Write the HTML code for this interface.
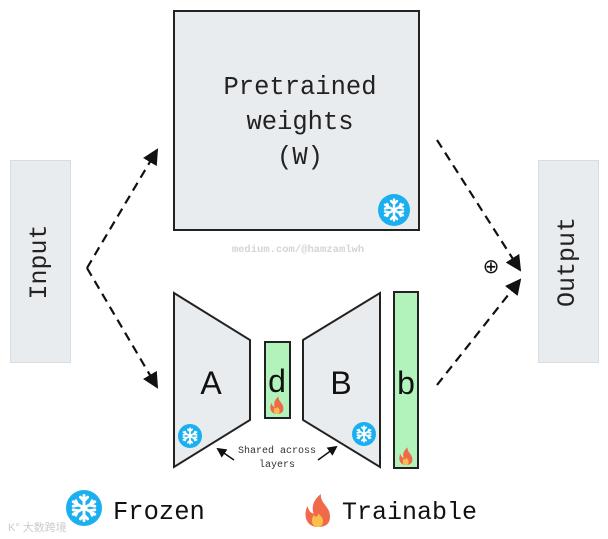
<!DOCTYPE html>
<html><head><style>body{margin:0;background:#fff}svg{display:block}</style></head><body>
<svg width="608" height="539" viewBox="0 0 608 539" xmlns="http://www.w3.org/2000/svg">
<defs>
<marker id="ah" markerWidth="10" markerHeight="10" refX="8" refY="5" orient="auto" markerUnits="userSpaceOnUse"><path d="M0,0 L10,5 L0,10 Z" fill="#111"/></marker>
<marker id="ah2" markerWidth="16" markerHeight="16" refX="14" refY="8" orient="auto" markerUnits="userSpaceOnUse"><path d="M0,0 L16,8 L0,16 Z" fill="#111"/></marker>
<g id="fire"><path d="M0,10 C-8,10 -10,2 -7,-4 C-6,0 -4,1 -3,1 C-5,-5 -1,-10 2,-12 C1,-6 8,-4 8,3 C8,8 5,10 0,10 Z" fill="#f06a4a"/><path d="M0,10 C-4,10 -5,6 -3,2 C-1,4 0,3 0,1 C3,3 4,6 3,8 C2,10 1,10 0,10Z" fill="#f8c04a"/></g>
<g id="flake" stroke="#fff" stroke-width="1.6" stroke-linecap="round" fill="none"><path d="M0,-7V7M-6,-3.5L6,3.5M-6,3.5L6,-3.5M-2,-6L0,-4L2,-6M-2,6L0,4L2,6M-6,-1L-3.5,-1.5L-4.5,-4M6,1L3.5,1.5L4.5,4M-6,1L-3.5,1.5L-4.5,4M6,-1L3.5,-1.5L4.5,-4"/></g>
</defs>
<rect x="10.5" y="160.5" width="60" height="202" fill="#e9ecef" stroke="#dadde0"/>
<rect x="538.5" y="160.5" width="60" height="202" fill="#e9ecef" stroke="#dadde0"/>
<text transform="translate(46,262) rotate(-90)" text-anchor="middle" font-family="Liberation Mono,monospace" font-size="25" fill="#222">Input</text>
<text transform="translate(574,262) rotate(-90)" text-anchor="middle" font-family="Liberation Mono,monospace" font-size="25" fill="#222">Output</text>
<rect x="174" y="11" width="245" height="219" fill="#e9ecef" stroke="#222" stroke-width="2"/>
<g font-family="Liberation Mono,monospace" font-size="25.5" fill="#222" text-anchor="middle"><text x="300" y="94">Pretrained</text><text x="300" y="129">weights</text><text x="300" y="164">(W)</text></g>
<circle cx="394" cy="210" r="16" fill="#1ab0f0"/><use href="#flake" transform="translate(394,210) scale(1.5)"/>
<text x="298" y="252" text-anchor="middle" font-family="Liberation Mono,monospace" font-size="10.5" font-weight="bold" fill="#d4d4d4">medium.com/@hamzamlwh</text>
<g stroke="#111" stroke-width="2.2" stroke-dasharray="9,6" fill="none">
<path d="M87,268 L157,150" marker-end="url(#ah2)"/>
<path d="M87,268 L157,387" marker-end="url(#ah2)"/>
<path d="M437,140 L520,270" marker-end="url(#ah2)"/>
<path d="M437,385 L520,280" marker-end="url(#ah2)"/>
</g>
<text x="491" y="273" text-anchor="middle" font-family="DejaVu Sans,sans-serif" font-size="20" fill="#111">⊕</text>
<polygon points="174,293 250,340 250,420 174,467" fill="#e9ecef" stroke="#222" stroke-width="2"/>
<polygon points="303,340 380,293 380,467 303,420" fill="#e9ecef" stroke="#222" stroke-width="2"/>
<rect x="265" y="342" width="25" height="76" fill="#b2f2bb" stroke="#222" stroke-width="2"/>
<rect x="394" y="292" width="24" height="176" fill="#b2f2bb" stroke="#222" stroke-width="2"/>
<g font-family="Liberation Sans,sans-serif" font-size="32" fill="#111" text-anchor="middle"><text x="211" y="394">A</text><text x="277" y="392">d</text><text x="341" y="394">B</text><text x="406" y="394">b</text></g>
<use href="#fire" transform="translate(277,406) scale(0.8)"/>
<use href="#fire" transform="translate(406,457) scale(0.8)"/>
<circle cx="190" cy="436" r="12" fill="#1ab0f0"/><use href="#flake" transform="translate(190,436) scale(1.1)"/>
<circle cx="364" cy="434" r="12" fill="#1ab0f0"/><use href="#flake" transform="translate(364,434) scale(1.1)"/>
<g font-family="Liberation Mono,monospace" font-size="10" fill="#333" text-anchor="middle"><text x="277" y="453">Shared across</text><text x="277" y="467">layers</text></g>
<g stroke="#111" stroke-width="1.5"><path d="M234,460 L218,449" marker-end="url(#ah)"/><path d="M318,460 L336,447" marker-end="url(#ah)"/></g>
<circle cx="84" cy="508" r="18" fill="#1ab0f0"/><use href="#flake" transform="translate(84,508) scale(1.8)"/>
<text x="113" y="519" font-family="Liberation Mono,monospace" font-size="25.5" fill="#111">Frozen</text>
<use href="#fire" transform="translate(318,512) scale(1.5)"/>
<text x="342" y="519" font-family="Liberation Mono,monospace" font-size="25" fill="#111">Trainable</text>
<text x="8" y="531" font-family="Liberation Sans,'Noto Sans CJK SC',sans-serif" font-size="11" fill="#ccc">K° 大数跨境</text>
</svg>
</body></html>
